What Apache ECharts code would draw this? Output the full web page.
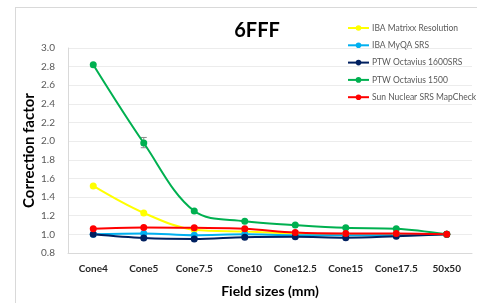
<!DOCTYPE html>
<html>
<head>
<meta charset="utf-8">
<script src="https://cdn.jsdelivr.net/npm/echarts@6/dist/echarts.min.js"></script>
<style>
  html, body { margin: 0; padding: 0; background: #fff; }
  #frame { position: absolute; left: 15px; top: 7px; width: 480px; height: 310px; border: 1px solid #d9d9d9; box-sizing: border-box; }
  #chart { position: absolute; left: 0; top: 0; width: 477px; height: 303px; }
</style>
</head>
<body>
<div id="frame"></div>
<div id="chart"></div>
<script>
const categories = ['Cone4', 'Cone5', 'Cone7.5', 'Cone10', 'Cone12.5', 'Cone15', 'Cone17.5', '50x50'];
const yTicks = [0.8, 1.0, 1.2, 1.4, 1.6, 1.8, 2.0, 2.2, 2.4, 2.6, 2.8, 3.0];

const ibaMatrixx = [1.52, 1.23, 1.05, 1.03, 1.01, 1.00, 1.00, 1.00];
const ibaMyQA = [1.00, 1.01, 0.99, 1.00, 0.99, 0.99, 0.99, 1.00];
const ptw1600 = [1.00, 0.96, 0.95, 0.97, 0.975, 0.965, 0.98, 1.00];
const ptw1500 = [2.82, 1.98, 1.25, 1.14, 1.10, 1.07, 1.06, 1.00];
const sunNuclear = [1.06, 1.075, 1.07, 1.06, 1.02, 1.01, 1.01, 1.00];

// PTW Octavius 1500 的误差棒 (Cone5)
const errCategory = ['Cone5'];
const errLow = [1.93];
const errHigh = [2.04];

const chart = echarts.init(document.getElementById('chart'), null, { renderer: 'canvas' });

// 折线通用样式
const mkSeries = (name, data, color) => ({
  name: name,
  type: 'line',
  data: data,
  smooth: 0.35,
  symbol: 'circle',
  symbolSize: 7,
  lineStyle: { color: color, width: 2 },
  itemStyle: { color: color },
  emphasis: { disabled: true }
});

chart.setOption({
  animation: false,
  backgroundColor: 'transparent',
  textStyle: { fontFamily: 'Lato' },
  title: {
    text: '6FFF',
    left: 252,
    textAlign: 'center',
    top: 16,
    textStyle: { fontSize: 20, fontWeight: 'bold', color: '#000', fontFamily: 'Lato' }
  },
  legend: {
    orient: 'vertical',
    left: 342,
    top: 18,
    itemWidth: 21,
    itemHeight: 7,
    itemGap: 7.3,
    data: ['IBA Matrixx Resolution', 'IBA MyQA SRS', 'PTW Octavius 1600SRS', 'PTW Octavius 1500', 'Sun Nuclear SRS MapCheck'],
    textStyle: { fontSize: 8.5, lineHeight: 10, color: '#595959', fontFamily: 'Lato', padding: [0, 0, 0, -2] }
  },
  grid: { left: 68, right: 5, top: 48, bottom: 44, containLabel: false },
  xAxis: {
    type: 'category',
    data: categories,
    boundaryGap: true,
    name: 'Field sizes (mm)',
    nameLocation: 'middle',
    nameGap: 31,
    nameTextStyle: { fontSize: 14, fontWeight: 'bold', color: '#000', fontFamily: 'Lato' },
    axisLine: { lineStyle: { color: '#d9d9d9', width: 1 } },
    axisTick: { show: false },
    axisLabel: { fontSize: 10, fontWeight: 'bold', color: '#262626', margin: 11, interval: 0 }
  },
  yAxis: {
    type: 'value',
    min: yTicks[0],
    max: yTicks[yTicks.length - 1],
    interval: 0.2,
    name: 'Correction factor',
    nameLocation: 'middle',
    nameGap: 31,
    nameMoveOverlap: false,
    nameTextStyle: { fontSize: 15, fontWeight: 'bold', color: '#000', fontFamily: 'Lato' },
    axisLine: { show: true, lineStyle: { color: '#d9d9d9', width: 1 } },
    axisTick: { show: false },
    axisLabel: { fontSize: 10, color: '#595959', margin: 13, formatter: v => v.toFixed(1) },
    splitLine: { lineStyle: { color: '#ececec', width: 1 } }
  },
  series: [
    {
      type: 'custom',
      silent: true,
      z: 1,
      data: errCategory.map((c, i) => [c, errLow[i], errHigh[i]]),
      renderItem: (params, api) => {
        const lo = api.coord([api.value(0), api.value(1)]);
        const hi = api.coord([api.value(0), api.value(2)]);
        const w = 3;
        const st = { stroke: '#8c8c8c', lineWidth: 1 };
        return {
          type: 'group',
          children: [
            { type: 'line', shape: { x1: lo[0], y1: lo[1], x2: hi[0], y2: hi[1] }, style: st },
            { type: 'line', shape: { x1: lo[0] - w, y1: lo[1], x2: lo[0] + w, y2: lo[1] }, style: st },
            { type: 'line', shape: { x1: hi[0] - w, y1: hi[1], x2: hi[0] + w, y2: hi[1] }, style: st }
          ]
        };
      }
    },
    mkSeries('IBA Matrixx Resolution', ibaMatrixx, '#ffff00'),
    mkSeries('IBA MyQA SRS', ibaMyQA, '#00b0f0'),
    mkSeries('PTW Octavius 1600SRS', ptw1600, '#002060'),
    mkSeries('PTW Octavius 1500', ptw1500, '#00b050'),
    mkSeries('Sun Nuclear SRS MapCheck', sunNuclear, '#ff0000')
  ]
});
</script>
</body>
</html>
